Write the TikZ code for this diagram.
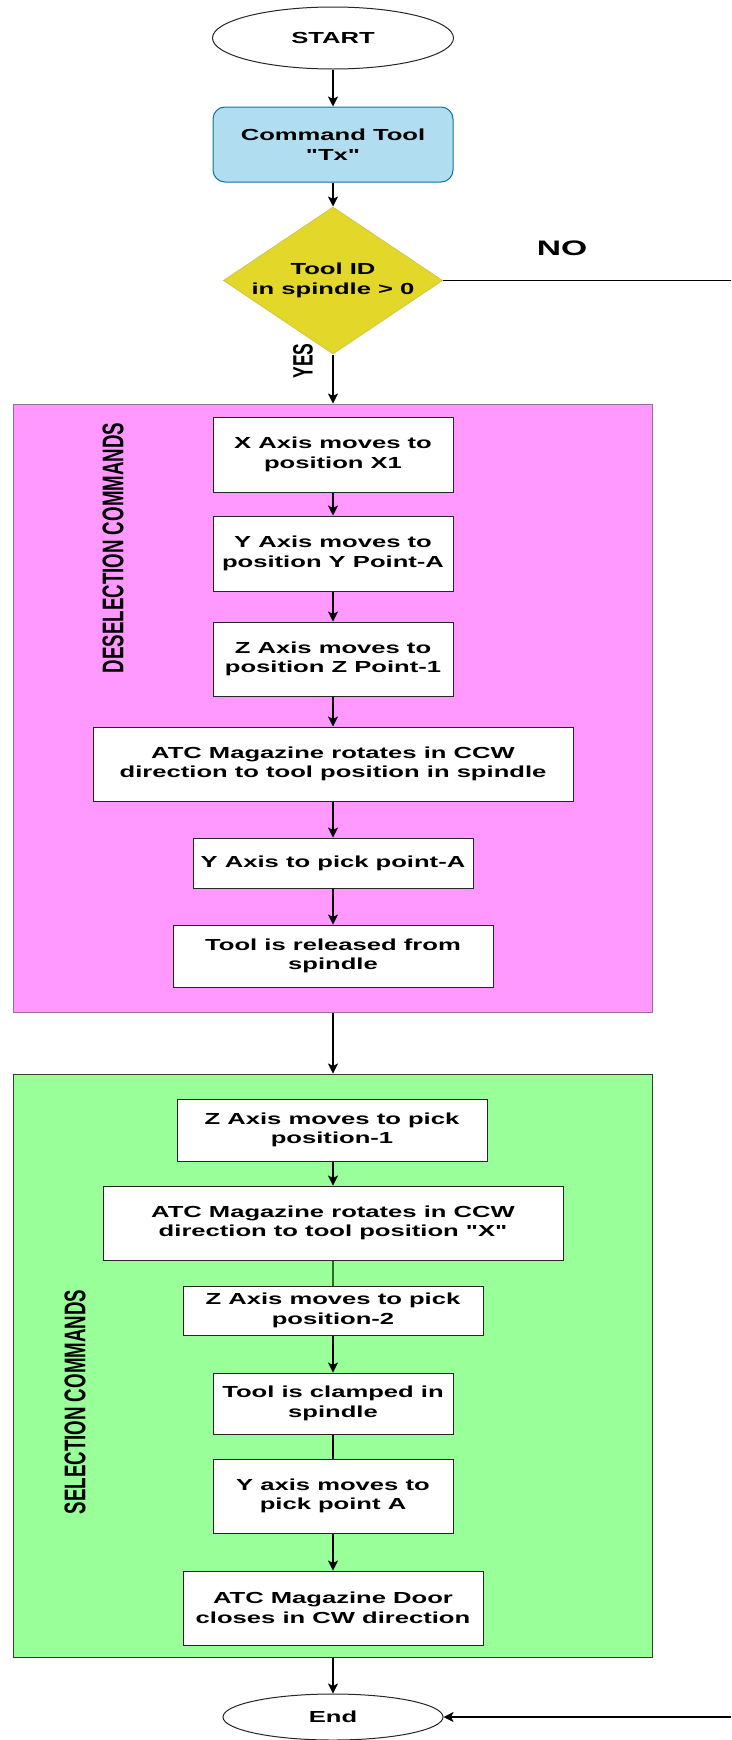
\documentclass[tikz,border=0pt]{standalone}
\usepackage{fontspec}
\setmainfont{Liberation Sans}
\newfontfamily\boxfont[FakeStretch=1.6]{Liberation Sans Bold}
\newfontfamily\sidefont{Liberation Sans Bold}
\usepackage{tikz}
\usetikzlibrary{arrows.meta,%
                shapes.geometric}

\definecolor{pinkbg}{RGB}{255,153,255}
\definecolor{pinkline}{RGB}{150,110,150}
\definecolor{greenbg}{RGB}{153,255,153}
\definecolor{greenline}{RGB}{50,60,50}
\definecolor{cmdfill}{RGB}{177,221,240}
\definecolor{cmdline}{RGB}{16,115,158}
\definecolor{decfill}{RGB}{227,216,42}
\definecolor{decline}{RGB}{214,200,70}
\definecolor{linkgreen}{RGB}{40,110,40}

\tikzset{
  box/.style={draw=black!85, fill=white, line width=1pt, inner sep=0pt,
              align=center, font=\boxfont\fontsize{16}{19.5}\selectfont},
  term/.style={box, ellipse},
  group/.style={line width=1pt, inner sep=0pt},
  flow/.style={line width=1.1pt, -{Stealth[length=10pt,width=10pt,inset=2.5pt]}},
  side/.style={rotate=90, inner sep=0pt},
}

\begin{document}
\begin{tikzpicture}[x=1pt,y=-1pt]
\useasboundingbox (0,0) rectangle (731,1740);
% containers
\node[group, fill=pinkbg, draw=pinkline, minimum width=639, minimum height=608] (desel) at (332.5,708) {};
\node[group, fill=greenbg, draw=greenline, minimum width=639, minimum height=583] (sel) at (332.5,1365.5) {};
\node[side] (desellbl) at (113,548) {\sidefont\fontsize{18.7}{20}\selectfont\scalebox{1}[1.6]{DESELECTION COMMANDS}};
\node[side] (sellbl) at (75,1402) {\sidefont\fontsize{18.7}{20}\selectfont\scalebox{1}[1.6]{SELECTION COMMANDS}};
% top
\node[term, minimum width=241, minimum height=62] (start) at (333,38) {START};
\node[box, rounded corners=12, fill=cmdfill, draw=cmdline, minimum width=240, minimum height=75] (cmd) at (333,144.5) {Command Tool\\"Tx"};
\node[box, diamond, aspect=1.49, fill=decfill, draw=decline, minimum width=219, minimum height=147] (dec) at (333,280.5) {Tool ID\\in spindle > 0};
\node[inner sep=0pt, font=\boxfont\fontsize{21}{24}\selectfont] (nolbl) at (562,248) {NO};
\node[side] (yeslbl) at (303,361) {\sidefont\fontsize{17.5}{20}\selectfont\scalebox{1}[1.6]{YES}};
\coordinate (noA) at (731,280.5);
\coordinate (noB) at (731,1717);
% deselection
\node[box, minimum width=240, minimum height=75] (xax) at (333,454.5) {X Axis moves to\\position X1};
\node[box, minimum width=240, minimum height=75] (yax) at (333,553.5) {Y Axis moves to\\position Y Point-A};
\node[box, minimum width=240, minimum height=74] (zax) at (333,659) {Z Axis moves to\\position Z Point-1};
\node[box, minimum width=480, minimum height=74] (atcA) at (333,764) {ATC Magazine rotates in CCW\\direction to tool position in spindle};
\node[box, minimum width=280, minimum height=50] (ypick) at (333,863) {Y Axis to pick point-A};
\node[box, minimum width=320, minimum height=62] (rel) at (333,956) {Tool is released from\\spindle};
% selection
\node[box, minimum width=310, minimum height=62] (zpickA) at (332,1130) {Z Axis moves to pick\\position-1};
\node[box, minimum width=460, minimum height=74] (atcB) at (333,1223) {ATC Magazine rotates in CCW\\direction to tool position "X"};
\node[box, minimum width=300, minimum height=49] (zpickB) at (333,1310.5) {Z Axis moves to pick\\position-2};
\node[box, minimum width=240, minimum height=61] (clamp) at (333,1403.5) {Tool is clamped in\\spindle};
\node[box, minimum width=240, minimum height=74] (ymove) at (333,1496) {Y axis moves to\\pick point A};
\node[box, minimum width=300, minimum height=74] (door) at (333,1608) {ATC Magazine Door\\closes in CW direction};
\node[term, minimum width=220, minimum height=46] (finish) at (333,1717) {End};
% connectors
\draw[flow] (start) -- (cmd);
\draw[flow] (cmd) -- (dec);
\draw[flow] (dec.south) -- (dec.south |- desel.north);
\draw[line width=1.1pt] (dec.east) -- (noA);
\draw[flow] (noB) -- (finish.east);
\draw[flow] (xax) -- (yax);
\draw[flow] (yax) -- (zax);
\draw[flow] (zax) -- (atcA);
\draw[flow] (atcA) -- (ypick);
\draw[flow] (ypick) -- (rel);
\draw[flow] (desel.south -| rel.south) -- (sel.north -| rel.south);
\draw[flow] (zpickA.south -| atcB.north) -- (atcB.north);
\draw[line width=1.1pt, linkgreen] (atcB) -- (zpickB);
\draw[flow] (zpickB) -- (clamp);
\draw[line width=1.1pt] (clamp) -- (ymove);
\draw[flow] (ymove) -- (door);
\draw[flow] (sel.south -| finish.north) -- (finish.north);
\end{tikzpicture}
\end{document}
